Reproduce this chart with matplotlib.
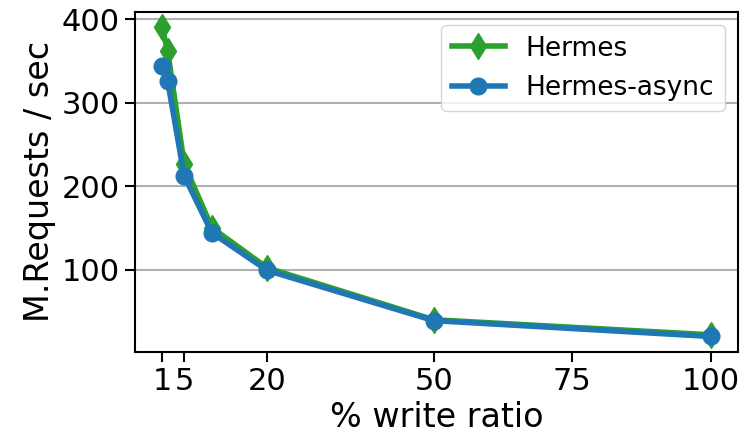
import numpy as np
import matplotlib
matplotlib.use("Agg")
import matplotlib.pyplot as plt

# write ratio (%) and throughput (M.Requests/sec)
write_ratio = [1, 2, 5, 10, 20, 50, 100]
hermes = [390, 362, 226, 150, 102, 40, 22]
hermes_async = [344, 326, 212, 144, 99, 39, 20]
xticks = [1, 5, 20, 50, 75, 100]

fig, ax = plt.subplots(figsize=(7.44, 4.41), dpi=100)
fig.subplots_adjust(left=0.181, right=0.992, top=0.973, bottom=0.202)

ax.plot(write_ratio, hermes, color='#2ca02c', marker='d', markersize=13,
        linewidth=4, label='Hermes')
ax.plot(write_ratio, hermes_async, color='#1f77b4', marker='o', markersize=12,
        linewidth=4, label='Hermes-async')

ax.set_xticks(xticks)
ax.set_yticks([100, 200, 300, 400])
ax.tick_params(labelsize=22, width=1.5, length=7)
ax.grid(True, axis='y', color='#b0b0b0', linewidth=1.5)
ax.set_axisbelow(True)
for s in ax.spines.values():
    s.set_linewidth(1.5)

ax.set_xlabel('% write ratio', fontsize=24)
ax.set_ylabel('M.Requests / sec', fontsize=24)
ax.legend(fontsize=19, loc='upper right')

fig.savefig('out.png', dpi=100)
